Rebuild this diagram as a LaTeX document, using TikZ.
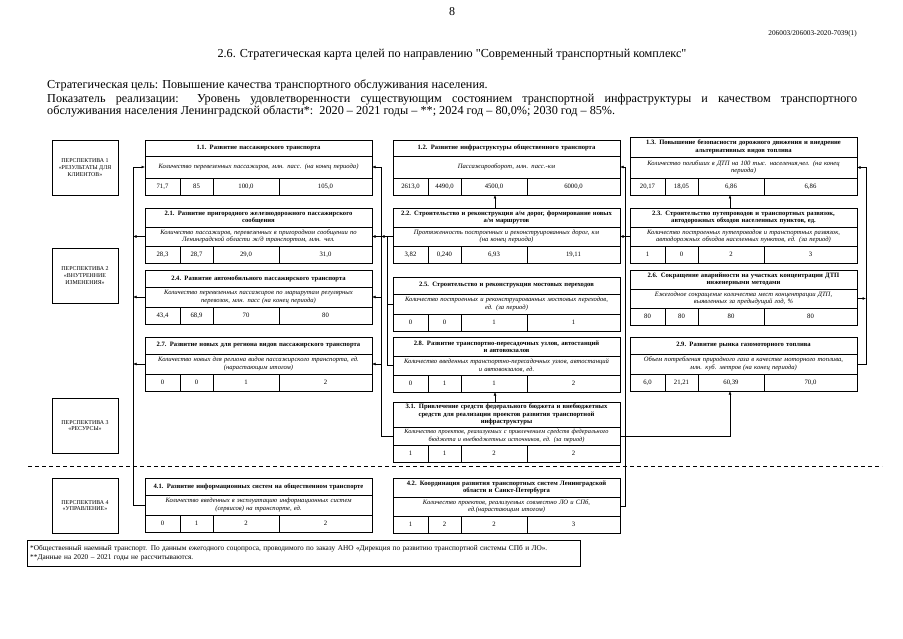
\documentclass[tikz,border=0pt]{standalone}
\usepackage{fontspec}
\setmainfont{Liberation Serif}
\newfontfamily\qfont{Liberation Serif}
\usetikzlibrary{fit,arrows.meta}

\tikzset{
 cell/.style={draw, line width=0.5pt, outer sep=0pt, inner xsep=1pt, inner ysep=1pt, align=center},
 titlecell/.style={cell, text width=225pt, font=\bfseries\fontsize{6.6}{7.4}\selectfont},
 desccell/.style={cell, text width=225pt, font=\itshape\fontsize{6.6}{7.4}\selectfont},
 valcell/.style={cell, minimum height=17pt, inner xsep=0pt, font=\fontsize{6.7}{7.5}\selectfont},
 persp/.style={draw, line width=0.6pt, minimum width=66pt, minimum height=55pt, align=center,
   font=\fontsize{5.9}{6.8}\selectfont, anchor=north west, outer sep=0pt, inner sep=1pt},
 conn/.style={line width=0.5pt},
 arr/.style={conn, -{Latex[length=3.5pt,width=2.8pt]}},
}

\newcommand\gvals[5]{%
 \node[valcell, minimum width=35pt, anchor=north west] (#1v1) at (#1d.south west) {#2};
 \node[valcell, minimum width=33pt, anchor=north west] (#1v2) at (#1v1.north east) {#3};
 \node[valcell, minimum width=66pt, anchor=north west] (#1v3) at (#1v2.north east) {#4};
 \node[valcell, minimum width=93pt, anchor=north west] (#1v4) at (#1v3.north east) {#5};
}
\newcommand\gbox[8]{%
 \node[titlecell, minimum height=#4, anchor=north west] (#1t) at (#2,#3) {#6};
 \node[desccell, minimum height=#5, anchor=north west] (#1d) at (#1t.south west) {#7};
 \gvals{#1}#8%
 \node[fit=(#1t)(#1v4), inner sep=0pt, outer sep=0pt] (#1) {};
}

\begin{document}
\begin{tikzpicture}[x=1pt,y=-1pt]
\useasboundingbox (0,0) rectangle (903,639);
\fill[white] (0,0) rectangle (903,639);

% header
\node (pg) at (452,12) {\fontsize{12}{13}\selectfont 8};
\node[anchor=east, inner sep=0pt] (code) at (857,34) {\fontsize{7.3}{8}\selectfont 206003/206003-2020-7039(1)};
\node (ttl) at (452,55) {\fontsize{12.2}{13}\selectfont 2.6. Стратегическая карта целей по направлению {\qfont"}Современный транспортный комплекс{\qfont"}};
\node[anchor=west, inner sep=0pt] (goal) at (47,85) {\fontsize{12.2}{13}\selectfont Стратегическая цель: Повышение качества транспортного обслуживания населения.};
\node[anchor=north west, inner sep=0pt, text width=810pt, align=justify] (ind) at (47,94)
 {\fontsize{12.2}{14.2}\selectfont Показатель реализации: Уровень удовлетворенности существующим состоянием транспортной инфраструктуры и качеством транспортного\linebreak обслуживания населения Ленинградской области*:\ \ 2020 – 2021 годы – **; 2024 год – 80,0\%; 2030 год – 85\%.};

% perspectives
\node[persp] (p1) at (52,140) {ПЕРСПЕКТИВА 1\\«РЕЗУЛЬТАТЫ ДЛЯ\\КЛИЕНТОВ»};
\node[persp] (p2) at (52,248) {ПЕРСПЕКТИВА 2\\«ВНУТРЕННИЕ\\ИЗМЕНЕНИЯ»};
\node[persp] (p3) at (52,398) {ПЕРСПЕКТИВА 3\\«РЕСУРСЫ»};
\node[persp] (p4) at (52,478) {ПЕРСПЕКТИВА 4\\«УПРАВЛЕНИЕ»};

% goal boxes
\gbox{b11}{145}{140}{16pt}{22pt}{1.1. Развитие пассажирского транспорта}
 {Количество перевезенных пассажиров, млн. пасс. (на конец периода)}{{71,7}{85}{100,0}{105,0}}
\gbox{b12}{393}{140}{16pt}{22pt}{1.2. Развитие инфраструктуры общественного транспорта}
 {Пассажирооборот, млн. пасс.-км}{{2613,0}{4490,0}{4500,0}{6000,0}}
\gbox{b13}{630}{137}{20pt}{21pt}{1.3. Повышение безопасности дорожного движения и внедрение\\альтернативных видов топлива}
 {Количество погибших в ДТП на 100 тыс. населения,чел. (на конец\\периода)}{{20,17}{18,05}{6,86}{6,86}}

\gbox{b21}{145}{208}{19pt}{19pt}{2.1. Развитие пригородного железнодорожного пассажирского\\сообщения}
 {Количество пассажиров, перевезенных в пригородном сообщении по\\Ленинградской области ж/д транспортом, млн. чел.}{{28,3}{28,7}{29,0}{31,0}}
\gbox{b22}{393}{208}{19pt}{19pt}{2.2. Строительство и реконструкция а/м дорог, формирование новых\\а/м маршрутов}
 {Протяженность построенных и реконструированных дорог, км\\(на конец периода)}{{3,82}{0,240}{6,93}{19,11}}
\gbox{b23}{630}{208}{19pt}{19pt}{2.3. Строительство путепроводов и транспортных развязок,\\автодорожных обходов населенных пунктов, ед.}
 {Количество построенных путепроводов и транспортных развязок,\\автодорожных обходов населенных пунктов, ед. (за период)}{{1}{0}{2}{3}}

\gbox{b24}{145}{270}{17pt}{20pt}{2.4. Развитие автомобильного пассажирского транспорта}
 {Количество перевезенных пассажиров по маршрутам регулярных\\перевозок, млн. пасс (на конец периода)}{{43,4}{68,9}{70}{80}}
\gbox{b25}{393}{277}{17pt}{20pt}{2.5. Строительство и реконструкция мостовых переходов}
 {Количество построенных и реконструированных мостовых переходов,\\ед. (за период)}{{0}{0}{1}{1}}
\gbox{b26}{630}{270}{19pt}{19pt}{2.6. Сокращение аварийности на участках концентрации ДТП\\инженерными методами}
 {Ежегодное сокращение количества мест концентрации ДТП,\\выявленных за предыдущий год, \%}{{80}{80}{80}{80}}

\gbox{b27}{145}{337}{17pt}{20pt}{2.7. Развитие новых для региона видов пассажирского транспорта}
 {Количество новых для региона видов пассажирского транспорта, ед.\\(нарастающим итогом)}{{0}{0}{1}{2}}
\gbox{b28}{393}{337}{19pt}{19pt}{2.8. Развитие транспортно-пересадочных узлов, автостанций\\и автовокзалов}
 {Количество введенных транспортно-пересадочных узлов, автостанций\\и автовокзалов, ед.}{{0}{1}{1}{2}}
\gbox{b29}{630}{337}{17pt}{20pt}{2.9. Развитие рынка газомоторного топлива}
 {Объем потребления природного газа в качестве моторного топлива,\\млн. куб. метров (на конец периода)}{{6,0}{21,21}{60,39}{70,0}}

\gbox{b31}{393}{402}{25pt}{18pt}{3.1. Привлечение средств федерального бюджета и внебюджетных\\средств для реализации проектов развития транспортной\\инфраструктуры}
 {\fontsize{6.3}{7.2}\selectfont Количество проектов, реализуемых с привлечением средств федерального\\бюджета и внебюджетных источников, ед. (за период)}{{1}{1}{2}{2}}

\gbox{b41}{145}{478}{17pt}{20pt}{4.1. Развитие информационных систем на общественном транспорте}
 {Количество введенных в эксплуатацию информационных систем\\(сервисов) на транспорте, ед.}{{0}{1}{2}{2}}
\gbox{b42}{393}{478}{19pt}{19pt}{4.2. Координация развития транспортных систем Ленинградской\\области и Санкт-Петербурга}
 {Количество проектов, реализуемых совместно ЛО и СПб,\\ед.(нарастающим итогом)}{{1}{2}{2}{3}}

% dashed separator
\coordinate (dl) at (28,466);
\coordinate (dr) at (882,466);
\draw[line width=0.6pt, dash pattern=on 4pt off 3pt] (dl) -- (dr);

% footer
\node[draw, line width=0.5pt, anchor=north west, text width=547pt, minimum height=26pt, align=left, inner xsep=3pt,
  font=\fontsize{7.3}{9}\selectfont] (foot) at (27,540)
 {*Общественный наемный транспорт. По данным ежегодного соцопроса, проводимого по заказу АНО «Дирекция по развитию транспортной системы СПб и ЛО».\\\relax **Данные на 2020 – 2021 годы не рассчитываются.};

% trunk coordinates
\coordinate (tA) at (133,0);
\coordinate (tB) at (381,0);
\coordinate (tBp) at (387,0);
\coordinate (tC) at (625,0);
\coordinate (tD) at (866,0);
\coordinate (cM) at (495,0);
\coordinate (cR) at (730,0);

% left trunk
\draw[arr] (b41d.west) -- (b41d.west -| tA) -- (b11d.west -| tA) -- (b11d.west);
\draw[arr] (b21d.west) -- (b21d.west -| tA);
\draw[arr] (b24d.west) -- (b24d.west -| tA);
\draw[arr] (b27d.west) -- (b27d.west -| tA);

% trunk B
\draw[arr] (b31d.west) -- (b31d.west -| tB) -- (b11d.east -| tB) -- (b11d.east);
\draw[arr] (b21d.east -| tB) -- (b21d.east);
\draw[arr] (b24d.east -| tB) -- (b24d.east);
\draw[arr] (b27d.east -| tB) -- (b27d.east);
\draw[arr] (b22d.west) -- (b22d.west -| tB);
\draw[conn] (b22d.west -| tBp) -- (b28d.west -| tBp) -- (b28d.west);
\draw[conn] (b25d.west -| tBp) -- (b25d.west);

% vertical links
\draw[arr] (b22.north -| cM) -- (b12.south -| cM);
\draw[arr] (b23.north -| cR) -- (b13.south -| cR);
\draw[arr] (b31.north -| cM) -- (b28.south -| cM);
\draw[arr] (b31d.east) -- (b31d.east -| cR) -- (b29.south -| cR);

% trunk C
\draw[arr] (b42d.east) -- (b42d.east -| tC) -- (b12d.east -| tC) -- (b12d.east);
\draw[arr] (b22d.east -| tC) -- (b22d.east);
\draw[conn] (b23d.west) -- (b23d.west -| tC);

% trunk D
\draw[arr] (b29d.east) -- (b29d.east -| tD) -- (b13d.east -| tD) -- (b13d.east);
\draw[arr] (b26d.east) -- (b26d.east -| tD);
\end{tikzpicture}
\end{document}
